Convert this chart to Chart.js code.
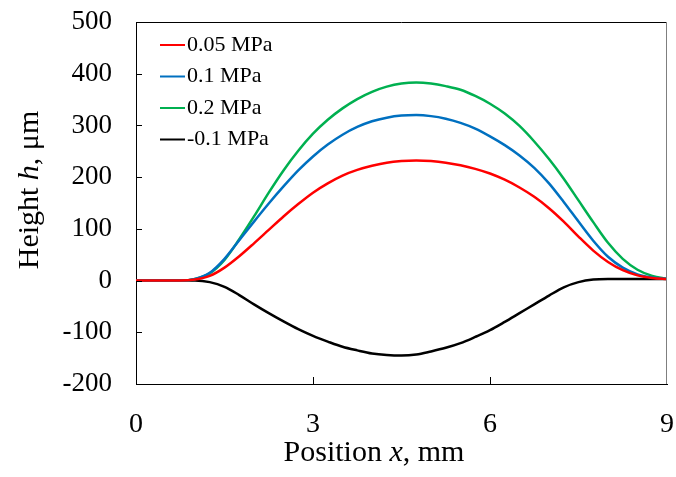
<!DOCTYPE html>
<html lang="en">
<head>
  <meta charset="UTF-8">
  <title>Height profile</title>
  <style>
    html, body { margin: 0; padding: 0; background: #fff; }
    #wrap { width: 676px; height: 477px; }
  </style>
</head>
<body>
<div id="wrap"><canvas id="profileChart" width="676" height="477"></canvas></div>

<script src="https://cdn.jsdelivr.net/npm/chart.js"></script>
<script>
  // Position x (mm), every 0.25 mm, and heights h (um)
  const positionMm = [0, 0.25, 0.5, 0.75, 1.0, 1.25, 1.5, 1.75, 2.0, 2.25, 2.5, 2.75, 3.0, 3.25, 3.5, 3.75,
                      4.0, 4.25, 4.5, 4.75, 5.0, 5.25, 5.5, 5.75, 6.0, 6.25, 6.5, 6.75, 7.0, 7.25, 7.5, 7.75,
                      8.0, 8.25, 8.5, 8.75, 9.0];
  const h005 = [0, 0, 0, 0, 2, 9, 25, 47, 72, 98, 124, 148, 170, 188, 203, 214,
                222, 228, 231, 232, 231, 228, 223, 216, 207, 195, 180, 162, 140, 114, 85, 58,
                36, 20, 10, 5, 3];
  const h01  = [0, 0, 0, 0, 3, 15, 42, 78, 114, 149, 182, 213, 240, 263, 282, 297,
                308, 315, 319, 320, 318, 313, 305, 294, 279, 262, 242, 218, 188, 152, 114, 77,
                46, 25, 12, 6, 3];
  const h02  = [0, 0, 0, 0, 3, 14, 40, 80, 124, 170, 213, 251, 284, 311, 333, 351,
                365, 375, 381, 383, 381, 376, 369, 357, 342, 323, 299, 269, 235, 197, 155, 113,
                73, 42, 21, 9, 3];
  const hNeg = [0, 0, 0, 0, 0, -3, -12, -28, -46, -63, -79, -94, -107, -118, -128, -135,
                -141, -144, -145, -143, -137, -130, -121, -109, -96, -80, -63, -46, -29, -13, -3, 2,
                3, 3, 3, 3, 3];

  const seriesLabels = ['0.05 MPa', '0.1 MPa', '0.2 MPa', '-0.1 MPa'];
  const seriesColors = ['#ff0000', '#0070c0', '#00b050', '#000000'];
  const xTicks = [0, 3, 6, 9];
  const yTicks = [-200, -100, 0, 100, 200, 300, 400, 500];

  const FONT = "'Liberation Serif', 'Times New Roman', serif";

  function toPoints(ys) {
    return positionMm.map((x, i) => ({ x: x, y: ys[i] }));
  }

  // box, inner ticks, legend and axis titles (titles have italic symbols)
  const decorations = {
    id: 'decorations',
    afterDraw(chart) {
      const ctx = chart.ctx;
      const a = chart.chartArea;
      const xs = chart.scales.x, ys = chart.scales.y;
      ctx.save();

      // top + right border
      ctx.strokeStyle = '#000';
      ctx.lineWidth = 1;
      ctx.beginPath();
      ctx.moveTo(a.left, a.top + 0.5);
      ctx.lineTo(a.right, a.top + 0.5);
      ctx.stroke();
      ctx.strokeStyle = '#7f7f7f';
      ctx.beginPath();
      ctx.moveTo(a.right - 0.5, a.top);
      ctx.lineTo(a.right - 0.5, a.bottom);
      ctx.stroke();

      // inward tick marks
      ctx.strokeStyle = '#000';
      ctx.beginPath();
      yTicks.slice(1, -1).forEach(v => {
        const y = Math.round(ys.getPixelForValue(v)) + 0.5;
        ctx.moveTo(a.left, y);
        ctx.lineTo(a.left + 6, y);
      });
      xTicks.slice(1, -1).forEach(v => {
        const x = Math.round(xs.getPixelForValue(v)) + 0.5;
        ctx.moveTo(x, a.bottom);
        ctx.lineTo(x, a.bottom - 7);
      });
      ctx.stroke();

      // legend
      ctx.font = '22px ' + FONT;
      ctx.textBaseline = 'middle';
      ctx.textAlign = 'left';
      chart.data.datasets.forEach((ds, i) => {
        const y = 45 + i * 31.5;
        ctx.strokeStyle = ds.borderColor;
        ctx.lineWidth = 2;
        ctx.beginPath();
        ctx.moveTo(160, y);
        ctx.lineTo(185, y);
        ctx.stroke();
        ctx.fillStyle = '#000';
        ctx.fillText(ds.label, 187, y);
      });

      // axis titles with italic symbols
      function mixed(parts, cx, cy) {
        let total = 0;
        parts.forEach(p => { ctx.font = p[1] + '30px ' + FONT; total += ctx.measureText(p[0]).width; });
        let x = cx - total / 2;
        parts.forEach(p => {
          ctx.font = p[1] + '30px ' + FONT;
          ctx.fillText(p[0], x, cy);
          x += ctx.measureText(p[0]).width;
        });
      }
      ctx.fillStyle = '#000';
      ctx.textBaseline = 'middle';
      mixed([['Position ', ''], ['x', 'italic '], [', mm', '']], 374, 453);

      ctx.save();
      ctx.translate(30, 190);
      ctx.rotate(-Math.PI / 2);
      mixed([['Height ', ''], ['h', 'italic '], [', \u03bcm', '']], 0, 0);
      ctx.restore();

      ctx.restore();
    }
  };

  new Chart(document.getElementById('profileChart').getContext('2d'), {
    type: 'line',
    data: {
      datasets: [h005, h01, h02, hNeg].map((ys, i) => ({
        label: seriesLabels[i],
        data: toPoints(ys),
        borderColor: seriesColors[i],
        borderWidth: 2.5,
        pointRadius: 0,
        fill: false,
        cubicInterpolationMode: 'monotone'
      }))
    },
    options: {
      responsive: false,
      animation: false,
      layout: { padding: { left: 0, top: 22, right: 9, bottom: 0 } },
      plugins: {
        legend: { display: false },
        tooltip: { enabled: false }
      },
      scales: {
        x: {
          type: 'linear',
          min: 0,
          max: 9,
          afterBuildTicks: s => { s.ticks = xTicks.map(v => ({ value: v })); },
          afterFit: s => { s.height = 93; s.paddingLeft = 0; s.paddingRight = 0; },
          grid: { display: false, drawTicks: false },
          border: { display: true, color: '#000', width: 1 },
          ticks: { color: '#000', font: { family: FONT, size: 28 }, padding: 24, maxRotation: 0 }
        },
        y: {
          min: -200,
          max: 500,
          afterBuildTicks: s => { s.ticks = yTicks.map(v => ({ value: v })); },
          afterFit: s => { s.width = 136; s.paddingTop = 0; s.paddingBottom = 0; },
          grid: { display: false, drawTicks: false },
          border: { display: true, color: '#000', width: 1 },
          ticks: { color: '#000', font: { family: FONT, size: 27 }, padding: 24 }
        }
      }
    },
    plugins: [decorations]
  });
</script>
</body>
</html>
